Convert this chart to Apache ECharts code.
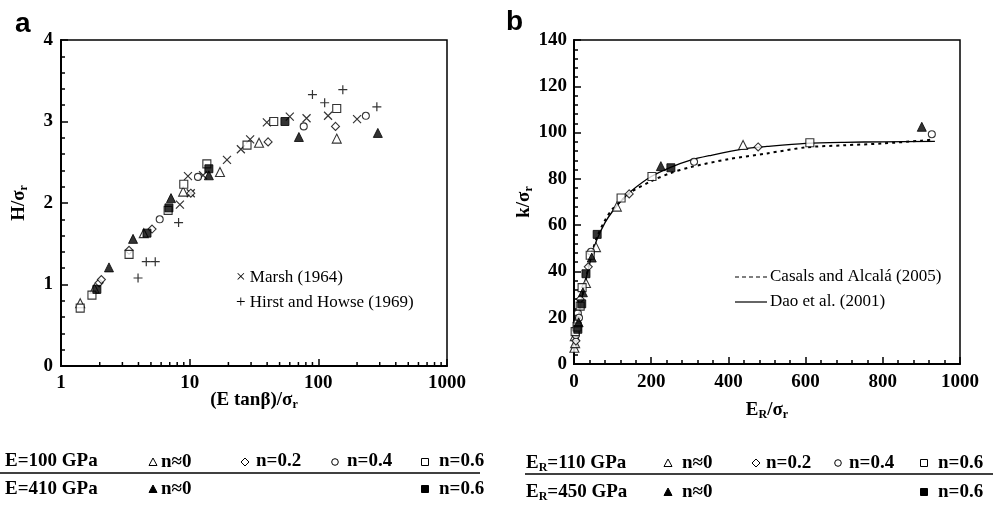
<!DOCTYPE html>
<html><head><meta charset="utf-8">
<script src="https://cdn.jsdelivr.net/npm/echarts@6/dist/echarts.min.js"></script>
<style>html,body{margin:0;padding:0;background:#fff}#c{width:1004px;height:506px}</style>
</head><body><div id="c"></div>
<script>
// ---------- Panel a data: x = (E tanβ)/σr, y = H/σr ----------
const aTriOpen   = [[1.41,0.77],[1.82,0.95],[4.4,1.63],[8.9,2.14],[17.2,2.38],[34.6,2.74],[139,2.79]];
const aDiaOpen   = [[1.98,1.02],[2.06,1.06],[3.38,1.42],[5.1,1.68],[10.2,2.12],[40.7,2.75],[136,2.94]];
const aCirOpen   = [[5.85,1.8],[11.6,2.32],[77,2.94],[234,3.07]];
const aSqOpen    = [[1.41,0.71],[1.74,0.87],[3.38,1.37],[6.8,1.91],[9.0,2.23],[13.6,2.48],[27.9,2.71],[45,3.0],[139,3.16]];
const aTriFill   = [[2.36,1.21],[3.63,1.56],[7.16,2.06],[14.1,2.34],[70.6,2.81],[290,2.86]];
const aSqFill    = [[1.9,0.94],[4.66,1.63],[6.9,1.94],[14.1,2.42],[55,3.0]];
const aMarsh     = [[8.4,1.98],[9.7,2.33],[10.2,2.12],[12.7,2.34],[19.5,2.53],[25,2.66],[29.5,2.78],[39.8,2.99],[60,3.06],[81,3.04],[119,3.07],[200,3.03]];
const aHirst     = [[3.97,1.08],[4.6,1.28],[5.4,1.28],[8.2,1.76],[90,3.33],[112,3.23],[155,3.39],[285,3.18]];
const aMinorTicks = [2,3,4,5,6,7,8,9,20,30,40,50,60,70,80,90,200,300,400,500,600,700,800,900];
const aXTicks = ['1','10','100','1000'];
const aYTicks = ['0','1','2','3','4'];

// ---------- Panel b data: x = ER/σr, y = k/σr ----------
const bTriOpen = [[1,7],[3,9],[2,12],[31,35],[57,50.5],[111,68],[438,94.6]];
const bDiaOpen = [[5,10],[8,18],[16,28],[37,42],[143,73.5],[477,93.8]];
const bCirOpen = [[5,12.5],[10,22],[13,20],[44,48.5],[311,87.4],[927,99.3]];
const bSqOpen  = [[3,14],[8,16],[16,25],[21,33],[42,47],[122,71.7],[202,81],[611,95.6]];
const bTriFill = [[12,18],[23,31],[46,46],[225,85.5],[901,102.5]];
const bSqFill  = [[10,15],[20,26],[31,39],[60,56],[251,84.8]];
const bDao     = [[1,8],[5,13],[10,19],[20,28],[30,36],[40,43],[50,49],[60,54],[80,61],[100,66],[125,71],[150,75],[200,81],[250,85],[300,88],[350,90],[440,93],[500,94],[600,95.3],[700,95.8],[800,96],[935,96.2]];
const bCasals  = [[1,6],[5,12],[10,18],[20,28],[30,36],[40,44],[50,50],[60,55],[80,62],[100,67],[125,71],[150,74.5],[200,79],[250,82.5],[300,85],[400,88.5],[500,91],[600,93.6],[700,94.5],[800,95.3],[900,96.5],[930,97]];

const SERIF = "'Liberation Serif', 'DejaVu Serif', serif";
const chart = echarts.init(document.getElementById('c'), null, {renderer:'canvas'});

const CROSS = 'path://M0,0L10,10M10,0L0,10';
const PLUS  = 'path://M5,0L5,10M0,5L10,5';
const openStyle = {color:'#fff', borderColor:'#000', borderWidth:1.1};
const fillStyle = {color:'#000', borderColor:'#000', borderWidth:1};
const strokeOnly = {color:'rgba(0,0,0,0)', borderColor:'#000', borderWidth:1.2};

function sc(name, data, gi, symbol, size, style, z) {
  return {name, type:'scatter', xAxisIndex:gi, yAxisIndex:gi, data, symbol, symbolSize:size,
    itemStyle:style, z:z||3, silent:true, animation:false};
}

const axisLab = {color:'#000', fontFamily:SERIF, fontWeight:'bold', fontSize:19};
const axLine = {show:true, onZero:false, lineStyle:{color:'#000', width:2}};
const nameRich = {
  b:{fontFamily:SERIF, fontWeight:'bold', fontSize:19, color:'#000'},
  s:{fontFamily:SERIF, fontWeight:'bold', fontSize:12, color:'#000', padding:[9,0,0,0]}
};

const option = {
  animation:false,
  backgroundColor:'#fff',
  grid:[
    {left:61, top:40, width:386, height:326, show:true, borderColor:'#000', borderWidth:1.5, backgroundColor:'transparent'},
    {left:574, top:40, width:386, height:324, show:true, borderColor:'#000', borderWidth:1.5, backgroundColor:'transparent'}
  ],
  xAxis:[
    {gridIndex:0, type:'log', logBase:10, min:1, max:1000, axisLine:axLine,
     axisTick:{inside:true, length:7, lineStyle:{color:'#000', width:1.5}},
     axisLabel:Object.assign({margin:8, formatter:(v)=>aXTicks[Math.round(Math.log10(v))]}, axisLab),
     splitLine:{show:false}},
    {gridIndex:1, type:'value', min:0, max:1000, interval:200, axisLine:axLine,
     axisTick:{inside:true, length:7, lineStyle:{color:'#000', width:1.5}},
     minorTick:{show:true, splitNumber:5, length:4, lineStyle:{color:'#000', width:1.5}},
     axisLabel:Object.assign({margin:9, formatter:(v)=>String(v)}, axisLab), splitLine:{show:false}, minorSplitLine:{show:false},
     name:'{b|E}{s|R}{b|/σ}{s|r}', nameLocation:'middle', nameGap:36,
     nameTextStyle:{rich:nameRich}}
  ],
  yAxis:[
    {gridIndex:0, type:'value', min:0, max:4, interval:1, axisLine:axLine,
     axisTick:{inside:true, length:7, lineStyle:{color:'#000', width:1.5}},
     minorTick:{show:true, splitNumber:5, length:4, lineStyle:{color:'#000', width:1.5}},
     axisLabel:Object.assign({margin:8, formatter:(v)=>aYTicks[v]}, axisLab), splitLine:{show:false}, minorSplitLine:{show:false},
     name:'{b|H/σ}{s|r}', nameLocation:'middle', nameGap:31, nameRotate:90,
     nameTextStyle:{rich:nameRich}},
    {gridIndex:1, type:'value', min:0, max:140, interval:20, axisLine:axLine,
     axisTick:{inside:true, length:7, lineStyle:{color:'#000', width:1.5}},
     minorTick:{show:true, splitNumber:5, length:4, lineStyle:{color:'#000', width:1.5}},
     axisLabel:Object.assign({margin:7}, axisLab), splitLine:{show:false}, minorSplitLine:{show:false},
     name:'{b|k/σ}{s|r}', nameLocation:'middle', nameGap:33, nameRotate:90,
     nameTextStyle:{rich:nameRich}}
  ],
  series:[
    {type:'custom', xAxisIndex:0, yAxisIndex:0, data:aMinorTicks.map(v=>[v,0]), silent:true, clip:false, z:5,
     renderItem:(params, api)=>{const p=api.coord([api.value(0), api.value(1)]);
       return {type:'line', shape:{x1:p[0], y1:p[1], x2:p[0], y2:p[1]-4}, style:{stroke:'#000', lineWidth:1.5}};}},
    sc('Marsh (1964)', aMarsh, 0, CROSS, 8, strokeOnly),
    sc('Hirst and Howse (1969)', aHirst, 0, PLUS, 9, strokeOnly),
    sc('E100 n≈0', aTriOpen, 0, 'triangle', 9, openStyle),
    sc('E100 n=0.2', aDiaOpen, 0, 'diamond', 8, openStyle),
    sc('E100 n=0.4', aCirOpen, 0, 'circle', 7, openStyle),
    sc('E100 n=0.6', aSqOpen, 0, 'rect', 8, openStyle),
    sc('E410 n≈0', aTriFill, 0, 'triangle', 9, fillStyle),
    sc('E410 n=0.6', aSqFill, 0, 'rect', 8, fillStyle),
    {name:'Dao et al. (2001)', type:'line', xAxisIndex:1, yAxisIndex:1, data:bDao, smooth:0.3, showSymbol:false,
     lineStyle:{color:'#000', width:1.3}, z:2, silent:true},
    {name:'Casals and Alcalá (2005)', type:'line', xAxisIndex:1, yAxisIndex:1, data:bCasals, smooth:0.3, showSymbol:false,
     lineStyle:{color:'#000', width:2, type:[3,4]}, z:2, silent:true},
    sc('ER110 n≈0', bTriOpen, 1, 'triangle', 9, openStyle),
    sc('ER110 n=0.2', bDiaOpen, 1, 'diamond', 8, openStyle),
    sc('ER110 n=0.4', bCirOpen, 1, 'circle', 7, openStyle),
    sc('ER110 n=0.6', bSqOpen, 1, 'rect', 8, openStyle),
    sc('ER450 n≈0', bTriFill, 1, 'triangle', 9, fillStyle),
    sc('ER450 n=0.6', bSqFill, 1, 'rect', 8, fillStyle)
  ],
  graphic:[]
};

// ---------- graphic annotations (panel letters, axis title a, inset legends, bottom tables) ----------
const G = option.graphic;
function txt(x, y, text, o) {
  G.push({type:'text', x, y, silent:true, z:10,
    style:Object.assign({text, fill:'#000', font:"bold 19px " + SERIF, verticalAlign:'middle'}, o||{})});
}
function richTxt(x, y, text, align) {
  G.push({type:'text', x, y, silent:true, z:10,
    style:{text, verticalAlign:'middle', align:align||'left', rich:{
      a:{fontFamily:SERIF, fontWeight:'bold', fontSize:19, fill:'#000', color:'#000'},
      s:{fontFamily:SERIF, fontWeight:'bold', fontSize:12, fill:'#000', color:'#000', padding:[9,0,0,0]}}}});
}
function tri(cx, cy, filled) {
  G.push({type:'polygon', silent:true, z:10, shape:{points:[[cx,cy-4],[cx+4,cy+3.5],[cx-4,cy+3.5]]},
    style:{fill:filled?'#000':'#fff', stroke:'#000', lineWidth:1}});
}
function dia(cx, cy) {
  G.push({type:'polygon', silent:true, z:10, shape:{points:[[cx,cy-4],[cx+4,cy],[cx,cy+4],[cx-4,cy]]},
    style:{fill:'#fff', stroke:'#000', lineWidth:1}});
}
function cir(cx, cy) {
  G.push({type:'circle', silent:true, z:10, shape:{cx, cy, r:3.3}, style:{fill:'#fff', stroke:'#000', lineWidth:1}});
}
function sq(cx, cy, filled) {
  G.push({type:'rect', silent:true, z:10, shape:{x:cx-3.5, y:cy-3.5, width:7, height:7},
    style:{fill:filled?'#000':'#fff', stroke:'#000', lineWidth:1}});
}
function hline(x1, x2, y, w, dash) {
  G.push({type:'line', silent:true, z:10, shape:{x1, y1:y, x2, y2:y},
    style:{stroke:'#000', lineWidth:w, lineDash:dash||null}});
}

// panel letters
txt(15, 24, 'a', {font:"bold 28px 'Liberation Sans', Arial, sans-serif"});
txt(506, 22, 'b', {font:"bold 28px 'Liberation Sans', Arial, sans-serif"});

// panel a x-axis title
richTxt(254, 400, '{a|(E tanβ)/σ}{s|r}', 'center');

// panel a inset legend
txt(236, 278, '× Marsh (1964)', {font:"17px " + SERIF});
txt(236, 303, '+ Hirst and Howse (1969)', {font:"17px " + SERIF});

// panel b inset legend
hline(735, 767, 277, 1.2, [4,3]);
txt(770, 277, 'Casals and Alcalá (2005)', {font:"17px " + SERIF});
hline(735, 767, 302, 1.2);
txt(770, 302, 'Dao et al. (2001)', {font:"17px " + SERIF});

// bottom table a
txt(5, 461, 'E=100 GPa');
tri(153, 462, false); txt(161, 462, 'n≈0');
dia(245, 462); txt(256, 461, 'n=0.2');
cir(335, 462); txt(347, 461, 'n=0.4');
sq(425, 462, false); txt(439, 461, 'n=0.6');
hline(0, 480, 473, 1.5);
txt(5, 489, 'E=410 GPa');
tri(153, 489, true); txt(161, 489, 'n≈0');
sq(425, 489, true); txt(439, 489, 'n=0.6');

// bottom table b
richTxt(526, 463, '{a|E}{s|R}{a|=110 GPa}');
tri(668, 463, false); txt(682, 463, 'n≈0');
dia(756, 463); txt(766, 463, 'n=0.2');
cir(838, 463); txt(849, 463, 'n=0.4');
sq(924, 463, false); txt(938, 463, 'n=0.6');
hline(525, 993, 474, 1.5);
richTxt(526, 492, '{a|E}{s|R}{a|=450 GPa}');
tri(668, 492, true); txt(682, 492, 'n≈0');
sq(924, 492, true); txt(938, 492, 'n=0.6');

chart.setOption(option);
</script>
</body></html>
